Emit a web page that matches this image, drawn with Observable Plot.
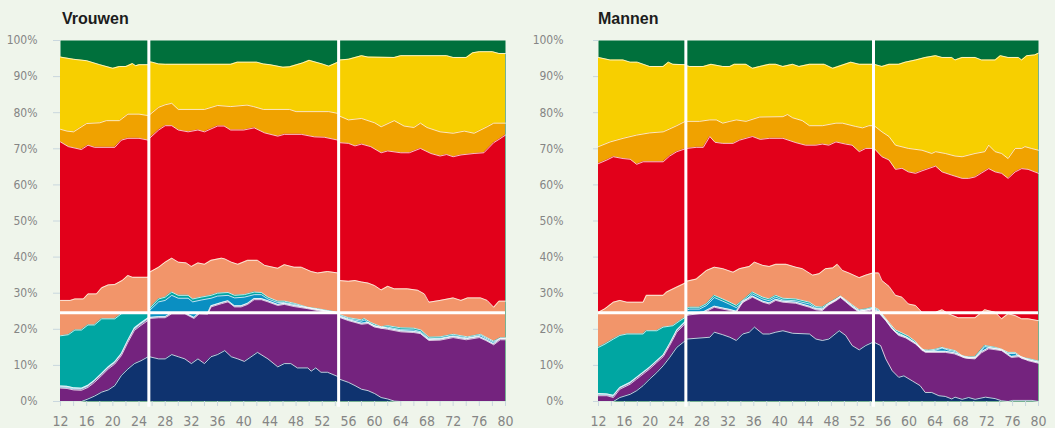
<!DOCTYPE html>
<html><head><meta charset="utf-8">
<script src="https://cdn.jsdelivr.net/npm/d3@7"></script>
<script src="https://cdn.jsdelivr.net/npm/@observablehq/plot@0.6"></script>
<style>
html,body{margin:0;padding:0;background:#eff5eb;width:1055px;height:428px;overflow:hidden;position:relative;}
.panel{position:absolute;top:30px;}
.title{position:absolute;top:11px;font:bold 16px "Liberation Sans",Arial,sans-serif;color:#1c1c1c;line-height:16px;}
</style></head><body>
<div class="title" style="left:62px">Vrouwen</div>
<div class="title" style="left:598px">Mannen</div>
<div id="vrouwen" class="panel" style="left:0px"></div>
<div id="mannen" class="panel" style="left:527px"></div>
<script>
// ---- data: [age, upper edge of layer in %] ----
const yTicks = [0,10,20,30,40,50,60,70,80,90,100];
const xTickMarks = [12,14,16,18,20,22,24,26,28,30,32,34,36,38,40,42,44,46,48,50,52,54,56,58,60,62,64,66,68,70,72,74,76,78,80];
const xTickLabels = [12,16,20,24,28,32,36,40,44,48,52,56,60,64,68,72,76,80];
const sectionBreaks = [25.5, 54.5];
const refLevel = [24.6];

// Vrouwen
const vYellow = [[12,95.4],[14,94.8],[16,94.4],[18,93.3],[20,92.3],[21,92.8],[22,92.8],[23,93.6],[23.5,93.0],[24,93.3],[25.4,93.3],[25.6,94.1],[26,94.0],[27,93.5],[28,93.4],[38,93.4],[39,94.0],[42,94.0],[43,93.5],[44,93.3],[46,92.6],[47,92.7],[49,93.8],[50,94.5],[52,93.5],[53,92.9],[54.4,94.0],[54.6,94.6],[56,94.8],[58,95.8],[59,95.4],[63,95.3],[64,95.8],[71,95.8],[72,95.3],[74,95.3],[75,96.6],[76,96.9],[78,96.9],[79,96.4],[80,96.4]];
const vOrange = [[12,75.4],[13,74.9],[14,74.7],[16,77.0],[18,77.2],[19,77.8],[21,77.8],[22.3,79.6],[24,79.6],[25.4,79.2],[25.6,79.4],[27,81.5],[28,82.2],[29,82.6],[30,80.9],[34,80.9],[36,82.0],[38,81.7],[40.5,82.1],[41.5,81.7],[43,80.9],[47,80.9],[48,80.3],[53,80.3],[54.4,79.8],[54.6,79.1],[56,78.0],[58,78.4],[60,77.2],[61,76.1],[63,77.8],[64.5,76.3],[66,75.9],[67,77.1],[68,75.9],[70,74.7],[72,74.3],[73.7,74.9],[75.2,74.3],[77.2,76.1],[78.2,77.1],[80,77.1]];
const vRed = [[12,71.9],[13.2,70.6],[15.2,69.8],[16.2,71.0],[17.2,70.4],[20.3,70.4],[21.3,72.4],[22.3,72.9],[24,72.9],[25.4,72.4],[25.6,72.9],[27,75.2],[28,76.4],[29,76.4],[30,75.2],[31.5,74.7],[33,75.2],[34,74.7],[36,76.3],[37,76.3],[38,75.2],[40,75.2],[41.6,75.8],[43.2,74.4],[45.2,73.5],[46.2,74.0],[48.8,74.0],[50.8,73.3],[52.3,73.2],[54.4,72.4],[54.6,71.7],[56,71.5],[57,70.8],[58,71.3],[59.4,70.6],[61,68.9],[62,69.4],[64,68.9],[65.3,68.9],[67,70.1],[68.6,68.7],[70,68.0],[71,68.4],[72,67.8],[73.2,68.3],[75.2,68.7],[76.7,68.9],[78.2,71.7],[79,72.6],[80,73.8]];
const vSalmon = [[12,28.0],[13.5,28.0],[14.2,28.4],[15.5,28.4],[16.2,29.8],[17.5,29.8],[18.3,31.5],[19.3,32.3],[20.3,32.4],[21.5,33.6],[22.3,34.9],[23,34.4],[25.4,34.4],[25.6,35.8],[27,37.2],[28,38.6],[29,39.7],[30,38.6],[31.2,38.4],[32,37.4],[33,38.4],[34,38.0],[35,39.1],[36.6,39.7],[37.1,39.5],[38.1,38.6],[39.1,38.0],[40.6,39.1],[42.1,39.1],[43.2,37.7],[45.2,36.9],[46.2,37.9],[47.7,37.2],[48.8,37.2],[50.3,36.0],[51.3,35.6],[52.8,36.0],[54.4,35.6],[54.6,33.5],[56,33.3],[57,33.5],[58,33.1],[59,32.8],[60,32.1],[61,30.9],[62,31.9],[63,31.2],[65,31.2],[66.6,30.8],[67.6,29.8],[68.3,27.5],[70,28.0],[72,28.7],[73.2,28.0],[74.2,28.7],[76.2,28.7],[77.2,28.0],[78.2,26.1],[79,27.8],[80,27.8]];
const vTeal = [[12,18.2],[13.2,18.5],[14.2,19.8],[15.2,19.8],[16.2,21.2],[17.2,21.2],[18.3,22.9],[20.3,22.9],[21.3,24.3],[22.3,24.6],[25.4,24.6],[25.6,25.7],[27,28.4],[28,28.9],[29,30.3],[30,29.4],[31.5,29.4],[32.2,28.4],[33.5,28.9],[35,29.4],[36,30.0],[37.6,30.2],[38.6,29.4],[40.1,29.6],[41.6,30.3],[42.7,30.2],[43.7,28.9],[45.2,27.8],[46.2,27.8],[47.7,27.2],[49.8,26.1],[51.3,25.7],[52.8,25.2],[54.4,24.7],[54.6,24.1],[56,23.2],[58,22.6],[58.4,23.0],[59.4,21.9],[61,20.7],[62,21.0],[64,20.4],[66,20.3],[67.1,19.8],[68.3,17.8],[70,17.9],[72,18.6],[74.2,17.9],[76.2,18.6],[78.2,16.7],[79.2,17.6],[80,17.6]];
const vBlue = [[25.6,25.2],[27,27.6],[28,28.0],[29,29.4],[30,28.6],[31.5,28.6],[32.2,27.6],[33.5,28.1],[35,28.6],[36,29.2],[37.6,29.4],[38.6,28.7],[40.1,28.9],[41.6,29.6],[42.7,29.6],[43.7,28.4],[45.2,27.4],[46.2,27.4],[47.7,26.9],[49.8,25.9],[51.3,25.5],[52.8,25.0],[54.4,24.5],[54.6,23.8],[56,22.9],[58,22.2],[58.4,22.6],[59.4,21.5],[61,20.3],[62,20.6],[64,19.9],[66,19.8],[67.1,19.3],[68.3,17.4],[70,17.5],[72,18.2],[74.2,17.6],[76.2,18.3],[78.2,16.4],[79.2,17.5],[80,17.5]];
const vLight = [[12,4.3],[13,4.2],[14,3.8],[15.2,3.7],[16.2,4.5],[17.2,5.9],[18.3,7.8],[19.3,9.6],[20.3,11.0],[21.3,13.3],[22.3,17.0],[23.3,20.4],[24.3,21.8],[25.4,23.2],[25.6,23.3],[27,23.5],[28,23.5],[29,24.6],[31,24.6],[32.4,23.3],[33.2,24.6],[34.5,24.5],[35,26.5],[36.6,27.4],[37.6,27.9],[38.6,26.5],[39.6,26.5],[40.6,27.2],[41.6,28.5],[42.7,28.5],[43.7,27.9],[45.2,26.9],[46.2,27.2],[47.7,26.6],[49.8,26.0],[51.8,25.3],[54.4,24.6],[54.6,23.6],[56,22.7],[58,21.7],[59,21.9],[60,20.9],[62,20.3],[64,19.6],[66,19.4],[67,19.1],[68.3,17.2],[70,17.3],[72,18.0],[74,17.4],[76,18.0],[77,17.2],[78.2,16.0],[79.2,17.4],[80,17.4]];
const vPurple = [[12,3.7],[13,3.6],[14,3.2],[15.2,3.1],[16.2,3.9],[17.2,5.3],[18.3,7.2],[19.3,9.0],[20.3,10.4],[21.3,12.7],[22.3,16.4],[23.3,19.7],[24.3,21.1],[25.4,22.5],[25.6,23.0],[27,23.2],[28,23.2],[29,24.3],[31,24.3],[32.4,23.0],[33.2,24.3],[34.5,24.2],[35,26.2],[36.6,27.1],[37.6,27.6],[38.6,26.2],[39.6,26.2],[40.6,26.9],[41.6,28.2],[42.7,28.2],[43.7,27.6],[45.2,26.6],[46.2,26.9],[47.7,26.3],[49.8,25.7],[51.8,25.0],[54.4,24.4],[54.6,23.3],[56,22.4],[58,21.4],[59,21.6],[60,20.6],[62,20.0],[64,19.3],[66,19.1],[67,18.8],[68.3,16.9],[70,17.0],[72,17.7],[74,17.1],[76,17.7],[77,16.9],[78.2,15.7],[79.2,17.1],[80,17.1]];
const vNavy = [[12,0],[15.2,0],[16.2,0.7],[17.2,1.5],[18.3,2.6],[19.3,3.2],[20.3,4.4],[21.3,7.2],[22.3,9.0],[23.3,10.5],[24.3,11.3],[25.4,12.4],[25.6,12.4],[27,11.8],[28,11.8],[29,13.0],[30,12.4],[31,11.8],[32,10.5],[33,11.8],[34,10.5],[35,12.4],[36,13.0],[37.1,14.1],[38.1,12.4],[39.1,11.8],[40.1,11.1],[42.1,13.6],[43.7,11.8],[45.2,9.6],[46.2,10.5],[47.2,10.5],[48.2,9.3],[49.8,9.3],[50.3,8.4],[51,9.3],[51.8,8.1],[52.8,8.1],[54.4,6.9],[54.6,6.2],[56,5.3],[57,4.4],[58,3.4],[59,3.0],[60,2.2],[61,1.1],[62,0.7],[63,0.1],[64,0],[80,0]];

// Mannen
const mYellow = [[12,95.3],[13.8,94.6],[15.8,94.6],[16.9,94.0],[18,94.0],[19.9,92.8],[22,92.8],[22.8,94.0],[23.5,93.4],[25.4,93.3],[25.6,93.0],[26.1,92.8],[28.2,92.8],[29.4,93.4],[31.2,92.8],[32.3,92.8],[33,93.4],[34.8,93.4],[35.8,92.3],[36.9,92.8],[38.4,93.4],[39.4,93.4],[40.5,92.8],[42,93.4],[43,92.8],[44.6,93.4],[46.9,93.4],[48.2,92.3],[49.7,93.2],[51,94.0],[52.3,93.4],[54.4,93.4],[54.6,93.4],[55.8,92.8],[56.9,93.4],[58.4,93.4],[59.4,94.0],[61,94.6],[62.5,95.3],[64.1,95.8],[65.1,95.3],[66.6,95.3],[67.1,94.6],[68.2,95.3],[70.2,95.3],[71.2,94.6],[73.3,94.6],[74.1,95.8],[75.3,95.3],[76.9,95.3],[77.4,94.6],[78.2,95.8],[79.4,96.0],[80,96.5]];
const mOrange = [[12,70.6],[13.8,71.9],[15.8,72.9],[17.9,73.8],[19.9,74.4],[22,74.7],[23,75.5],[24.1,76.4],[25.4,77.6],[25.6,77.6],[27.6,77.6],[29.2,78.0],[30.2,78.0],[31.2,77.1],[32.3,77.6],[33.3,78.0],[34.8,77.6],[36.9,78.8],[40.5,78.9],[41.2,79.5],[42,78.6],[43.5,77.8],[44.6,76.4],[46.6,76.4],[48.7,77.1],[49.7,77.1],[51.7,76.2],[52.8,75.8],[53.8,76.4],[54.4,76.4],[54.6,76.4],[55.8,74.7],[56.9,73.4],[57.9,71.0],[59.9,70.1],[62,69.6],[63.5,68.7],[64.1,69.2],[65.6,68.7],[67.1,68.0],[68.2,67.8],[70.2,68.7],[71.7,69.2],[72.3,71.0],[73.3,69.2],[74.3,68.7],[75.3,67.3],[76.4,70.1],[77.4,70.1],[77.9,70.6],[78.9,70.1],[80,69.6]];
const mRed = [[12,65.9],[13.3,66.9],[14.3,67.8],[15.8,67.3],[16.9,67.1],[17.9,65.7],[18.9,66.4],[22,66.4],[23,68.0],[24.1,69.2],[25.4,70.0],[25.6,70.1],[27.1,70.4],[28.2,70.4],[29.2,73.4],[30,71.8],[31.2,71.5],[32.8,71.5],[33.8,72.4],[35.8,73.4],[37,72.6],[38.4,72.9],[40.5,72.9],[42.5,71.7],[44,71.0],[45.6,71.0],[46.6,71.3],[47.6,71.0],[48.7,71.9],[50.2,71.3],[51.2,71.0],[52.3,69.2],[53.3,70.1],[54.4,70.1],[54.6,70.1],[55.8,67.8],[56.9,66.9],[57.9,64.3],[58.9,64.6],[59.9,63.6],[61,63.2],[62,63.9],[64.1,65.2],[65.1,63.6],[66.6,62.7],[68.2,61.8],[69.2,61.8],[70.2,62.2],[71.2,63.3],[72.3,64.5],[73.3,63.6],[74.3,63.2],[75.3,61.8],[76.4,63.6],[77.4,64.5],[78.4,64.3],[80,63.2]];
const mSalmon = [[12,24.7],[13,25.7],[14.3,27.5],[15.3,28.0],[16.4,27.5],[18.9,27.5],[19.4,29.4],[22,29.4],[22.5,30.3],[24.1,31.7],[25.4,32.8],[25.6,33.3],[27.1,33.9],[28.7,36.3],[29.9,37.2],[31.2,36.8],[32.8,35.8],[33.8,36.8],[35.3,37.4],[36.1,38.6],[37.4,37.7],[38.4,37.4],[39.4,38.0],[41,38.0],[42.5,37.2],[43.5,36.8],[45.1,35.0],[46.1,35.4],[47.1,36.8],[48.2,37.0],[48.9,38.0],[49.7,36.3],[50.7,35.6],[52.3,34.3],[53.3,35.0],[54.4,35.6],[54.6,35.6],[55.3,35.6],[55.8,33.5],[56.9,31.9],[57.9,29.4],[58.9,28.9],[59.9,27.0],[61,26.6],[62,24.7],[64.1,24.7],[65.1,25.4],[66.1,24.3],[67.6,23.2],[70.2,23.2],[71.7,25.4],[73.3,24.7],[74.3,22.9],[75.3,24.3],[76.4,23.8],[77.4,22.9],[78.4,22.9],[80,22.4]];
const mTeal = [[12,15.0],[13,15.9],[14.3,17.3],[15.3,18.3],[16.4,18.7],[18.9,18.7],[19.4,19.6],[21,19.6],[22,20.6],[23.5,21.0],[24.6,22.4],[25.4,23.3],[25.6,25.8],[26.1,26.1],[27.6,26.1],[28.7,27.1],[29.9,29.4],[31.2,28.4],[32.3,27.5],[33.3,26.6],[34.3,28.0],[35.8,30.3],[37.4,28.9],[38.4,28.4],[39.4,29.4],[40.5,28.6],[42.5,28.4],[44.6,27.5],[45.6,26.3],[46.6,26.1],[47.6,27.3],[48.7,28.4],[49.4,29.2],[50.2,28.2],[51.2,26.8],[52.3,25.4],[53.3,25.6],[54.4,26.1],[54.6,26.1],[55.3,25.5],[55.8,24.3],[56.9,21.9],[57.9,19.8],[58.9,19.0],[59.9,18.1],[61,16.6],[62,14.4],[63,14.2],[64.1,14.5],[65.1,15.0],[65.6,14.7],[66.1,14.5],[67.1,14.1],[68.2,12.7],[69.2,12.3],[70.2,12.4],[71.7,15.5],[73.3,15.0],[74.3,14.5],[75.3,13.6],[76.4,13.6],[77.4,12.2],[78.4,11.9],[80,11.2]];
const mBlue = [[25.6,25.3],[26.1,25.6],[27.6,25.6],[28.7,26.6],[29.9,28.8],[31.2,27.8],[32.3,26.9],[33.3,26.0],[34.3,27.4],[35.8,29.8],[37.4,28.4],[38.4,27.9],[39.4,28.9],[40.5,28.1],[42.5,27.9],[44.6,27.0],[45.6,25.9],[46.6,25.7],[47.6,26.9],[48.7,28.1],[49.4,29.0],[50.2,27.9],[51.2,26.5],[52.3,25.1],[53.3,25.3],[54.4,25.8],[54.6,25.8],[55.3,25.2],[55.8,24.0],[56.9,21.5],[57.9,19.3],[58.9,18.5],[59.9,17.6],[61,16.2],[62,14.1],[63,13.9],[64.1,14.2],[65.1,14.8],[65.6,14.5],[66.1,14.2],[67.1,13.8],[68.2,12.4],[69.2,12.0],[70.2,12.1],[71.7,15.2],[73.3,14.7],[74.3,14.2],[75.3,13.3],[76.4,13.3],[77.4,11.9],[78.4,11.6],[80,10.9]];
const mLight = [[12,2.2],[13.3,2.1],[14.3,1.7],[15.3,3.9],[16.9,5.3],[17.9,6.7],[18.9,8.1],[19.9,9.5],[21,11.3],[22,12.9],[23,16.0],[24.1,19.8],[25.1,21.6],[25.4,22.1],[25.6,24.1],[26.1,24.3],[28.2,24.8],[29.9,26.4],[31.2,25.9],[32.3,25.5],[33.3,25.0],[34.3,27.8],[35.3,28.7],[35.8,29.2],[37.4,27.8],[38.4,27.3],[39.4,28.3],[40.5,27.8],[42.5,27.5],[44.6,26.4],[45.6,25.7],[46.6,25.5],[47.6,27.1],[48.7,28.2],[49.4,29.1],[50.2,27.9],[51.2,26.4],[52.3,25.0],[53.3,25.3],[54.4,25.7],[54.6,25.5],[55.3,24.9],[56.4,22.7],[57.4,20.3],[58.4,18.6],[59.5,17.9],[61,16.2],[62.5,13.9],[65.6,13.9],[67,13.5],[68.7,12.3],[70.2,12.1],[71.2,13.8],[72.3,14.9],[74.3,14.4],[75.8,12.5],[77,12.7],[78.4,11.6],[80,10.9]];
const mPurple = [[12,1.6],[13.3,1.6],[14.3,1.1],[15.3,3.4],[16.9,4.8],[17.9,6.2],[18.9,7.6],[19.9,9.0],[21,10.8],[22,12.4],[23,15.5],[24.1,19.2],[25.1,21.0],[25.4,21.5],[25.6,23.8],[26.1,24.0],[28.2,24.5],[29.9,26.1],[31.2,25.6],[32.3,25.2],[33.3,24.7],[34.3,27.5],[35.3,28.4],[35.8,28.9],[37.4,27.5],[38.4,27.0],[39.4,28.0],[40.5,27.5],[42.5,27.2],[44.6,26.1],[45.6,25.4],[46.6,25.2],[47.6,26.8],[48.7,27.9],[49.4,28.8],[50.2,27.6],[51.2,26.1],[52.3,24.7],[53.3,25.0],[54.4,25.4],[54.6,25.2],[55.3,24.6],[56.4,22.4],[57.4,20.0],[58.4,18.3],[59.5,17.6],[61,15.9],[62.5,13.6],[65.6,13.6],[67,13.2],[68.7,12.0],[70.2,11.8],[71.2,13.5],[72.3,14.6],[74.3,14.1],[75.8,12.2],[77,12.4],[78.4,11.3],[80,10.6]];
const mNavy = [[12,0],[14.3,0],[15.3,1.1],[16.9,2.0],[17.9,3.0],[18.9,4.4],[19.9,6.2],[21,8.0],[22,9.9],[23,12.2],[24.1,15.0],[25.1,16.4],[25.4,16.8],[25.6,17.3],[29.2,17.8],[29.9,19.2],[31.2,18.5],[32.3,17.8],[33.3,16.9],[34.3,18.7],[35.3,19.2],[36.1,20.6],[37.4,18.7],[38.4,18.7],[39.4,19.2],[40.5,19.6],[42,18.9],[44.6,18.7],[45.6,17.3],[46.6,16.9],[47.6,17.3],[49.2,19.6],[50.2,18.3],[51.2,15.5],[52.3,14.3],[53.3,15.5],[54.4,16.4],[54.6,16.4],[55.6,15.5],[56.4,11.8],[57.4,8.5],[58.4,6.7],[59.2,7.1],[60.5,5.7],[61.7,4.4],[62.5,2.5],[63.5,2.5],[64.6,1.6],[65.6,1.4],[66.6,0.7],[67.1,1.2],[68.2,0.6],[69.2,1.1],[70.2,0.6],[71.8,1.2],[73.3,0.8],[74.3,0.2],[75.3,0],[76,0.3],[79,0.3],[80,0]];

// ---- styling ----
const C = {green:"#00703c", yellow:"#f7cf00", orange:"#f0a200", red:"#e2001a", salmon:"#f2956a",
  teal:"#00a6a2", blue:"#0a8fc2", light:"#a6d9e9", purple:"#74237e", navy:"#0f336f"};
const tickCol = "#c9d7de", labelCol = "#858585";
const axisFont = "'Liberation Sans Narrow','DejaVu Sans Condensed','Roboto Condensed','Liberation Sans',Arial,sans-serif";

function panel(el, layers, o) {
  const marks = [Plot.frame({fill: C.green, stroke: "none"})];
  for (const [data, color] of layers)
    marks.push(Plot.areaY(data, {x: d => d[0], y1: 0, y2: d => d[1], fill: color}));
  for (const [data] of layers)
    marks.push(Plot.line(data, {x: d => d[0], y: d => d[1], stroke: "white", strokeWidth: 1, strokeOpacity: 0.75}));
  marks.push(Plot.ruleY(refLevel, {stroke: "white", strokeWidth: 3}));
  marks.push(Plot.ruleX(sectionBreaks, {y1: -1.6, y2: 100, stroke: "white", strokeWidth: 3}));
  marks.push(Plot.axisY({ticks: yTicks, tickSize: o.ySize, tickPadding: o.yPad, tickFormat: d => d + "%",
    stroke: tickCol, fill: labelCol, fontSize: 12}));
  marks.push(Plot.axisX({ticks: xTickMarks, tickSize: 5, tickPadding: 10,
    tickFormat: d => xTickLabels.includes(d) ? String(d) : "", stroke: tickCol, fill: labelCol, fontSize: 14}));
  const svg = Plot.plot({
    width: o.width, height: 398,
    marginTop: 10, marginBottom: 27, marginLeft: o.ml, marginRight: o.mr,
    x: {domain: [12, 80], label: null},
    y: {domain: [0, 100], label: null},
    style: {background: "transparent", fontFamily: axisFont},
    marks
  });
  document.getElementById(el).append(svg);
}

const order = (y,o,r,s,t,b,l,p,n) => [[y,C.yellow],[o,C.orange],[r,C.red],[s,C.salmon],[t,C.teal],[b,C.blue],[l,C.light],[p,C.purple],[n,C.navy]];
panel("vrouwen", order(vYellow,vOrange,vRed,vSalmon,vTeal,vBlue,vLight,vPurple,vNavy), {width: 527, ml: 60, mr: 22, ySize: 7, yPad: 16});
panel("mannen", order(mYellow,mOrange,mRed,mSalmon,mTeal,mBlue,mLight,mPurple,mNavy), {width: 528, ml: 71, mr: 17, ySize: 5, yPad: 30});
</script>
</body></html>
